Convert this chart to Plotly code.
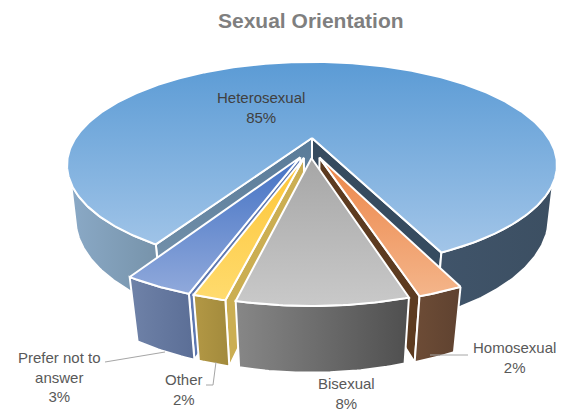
import math
import plotly.graph_objects as go

# ---- data ----
categories = ["Heterosexual", "Homosexual", "Bisexual", "Other", "Prefer not to answer"]
values = [84.6, 2.2, 8.2, 1.6, 3.4]
label_text = ["Heterosexual<br>85%", "Homosexual<br>2%", "Bisexual<br>8%", "Other<br>2%", "Prefer not to<br>answer<br>3%"]

# ---- styling ----
top_colors = [("#5B9BD5", "#A2C5E8"), ("#EC8548", "#F4B58A"), ("#A6A6A6", "#C9C9C9"), ("#FDC536", "#FFDB6E"), ("#4472C4", "#90A9DB")]
wall_colors = [("#8AA9C6", "#3C4F62"), ("#6D4C36", "#5F4230"), ("#878787", "#4F4F4F"), ("#B39845", "#A28A3C"), ("#6F82A8", "#5B6E96")]
side_colors = [("#587A98", "#7C98B0"), ("#5D3B20", "#5D3B20"), ("#888888", "#888888"), ("#CBAE52", "#CBAE52"), ("#5E78B0", "#5E78B0")]
main_right_cut = "#364B5F"
label_xy = [(261, 107), (514, 357), (346, 393), (184, 389), (59, 377)]
leaders = [([105, 165], [362, 352]), ([206, 213, 216], [385, 385, 362]), ([430, 468], [355, 355])]

# ---- projection of the tilted pie plane ----
CX, CY, A, B, K, M, N = 312, 138, 236.4, 96, 0.262, 0.033, 53.5
EXPLODE = 0.1
START = -30.8   # degrees from "towards the viewer", positive towards the right


def project(X, Y, Z=0.0):
    w = 1 - K * Y + M * Z
    return CX + A * X / w, CY + (B * Y + N * Z) / w


total = sum(values)
spans = []
theta = 360 + START  # left cut, going through the top to the right cut, then on along the front
for v in values:
    span = v / total * 360
    spans.append((theta - span, theta))
    theta -= span

mid_main = math.radians(sum(spans[0]) / 2)
ox, oy = -EXPLODE * math.sin(mid_main), -EXPLODE * math.cos(mid_main)


def apex(i):
    m = math.radians(sum(spans[i]) / 2)
    return ox + EXPLODE * math.sin(m), oy + EXPLODE * math.cos(m)


def rim(i, deg, z=0.0):
    ax, ay = apex(i)
    t = math.radians(deg)
    return project(ax + math.sin(t), ay + math.cos(t), z)


def arc(i, d0, d1, z=0.0):
    n = max(4, int(abs(d1 - d0) * 1.5))
    return [rim(i, d0 + (d1 - d0) * j / n, z) for j in range(n + 1)]


def area(pts):
    return sum(pts[j][0] * pts[(j + 1) % len(pts)][1] - pts[(j + 1) % len(pts)][0] * pts[j][1] for j in range(len(pts))) / 2


fig = go.Figure()


def poly(pts, c0, c1, direction):
    xs = [p[0] for p in pts] + [pts[0][0]]
    ys = [p[1] for p in pts] + [pts[0][1]]
    vals = xs if direction == "horizontal" else ys
    fig.add_trace(go.Scatter(
        x=xs, y=ys, mode="lines", fill="toself",
        line=dict(color="white", width=2),
        fillgradient=dict(type=direction, start=min(vals), stop=max(vals),
                          colorscale=[[0, c0], [1, c1]]),
        hoverinfo="skip", showlegend=False,
    ))


# main slice: cut faces, front of the rim, then top
lo, hi = spans[0]
ap_t, ap_b = project(*apex(0)), project(*apex(0), 1.0)
cl_t, cl_b = rim(0, hi), rim(0, hi, 1.0)
cr_t, cr_b = rim(0, lo), rim(0, lo, 1.0)
poly([ap_t, cl_t, cl_b, ap_b], side_colors[0][0], side_colors[0][1], "vertical")
poly([ap_t, cr_t, cr_b, ap_b], main_right_cut, main_right_cut, "vertical")
left_wall = arc(0, hi, 360 - 65) + arc(0, 360 - 70, hi, 1.0)
right_wall = arc(0, 65, lo) + arc(0, lo, 70, 1.0)
poly(left_wall, wall_colors[0][0], "#7692A9", "horizontal")
poly(right_wall, "#40546A", wall_colors[0][1], "horizontal")
poly([ap_t] + arc(0, hi, lo), top_colors[0][0], top_colors[0][1], "vertical")

# exploded small slices, far sides first
for i in (4, 3, 1, 2):
    lo, hi = spans[i]
    a_t, a_b = project(*apex(i)), project(*apex(i), 1.0)
    right_t, right_b = rim(i, lo), rim(i, lo, 1.0)
    left_t, left_b = rim(i, hi), rim(i, hi, 1.0)
    top = [a_t] + arc(i, hi, lo)
    sign = area(top)
    for face in ([a_t, left_t, left_b, a_b], [right_t, a_t, a_b, right_b]):
        if area(face) * sign < 0:
            poly(face, side_colors[i][0], side_colors[i][1], "vertical")
    poly(arc(i, hi, lo) + arc(i, lo, hi, 1.0), wall_colors[i][0], wall_colors[i][1], "horizontal")
    poly(top, top_colors[i][0], top_colors[i][1], "vertical")

# leader lines
for lx, ly in leaders:
    fig.add_trace(go.Scatter(x=lx, y=ly, mode="lines", line=dict(color="#A6A6A6", width=1),
                             hoverinfo="skip", showlegend=False))

for k, (txt, (tx, ty)) in enumerate(zip(label_text, label_xy)):
    fig.add_annotation(x=tx, y=ty, xref="x", yref="y", text=txt, showarrow=False, align="center",
                       font=dict(family="Liberation Sans, Arial, sans-serif", size=15,
                                 color="#404040" if k == 0 else "#595959"))

fig.add_annotation(x=311, y=20, xref="x", yref="y", text="<b>Sexual Orientation</b>", showarrow=False,
                   font=dict(family="Liberation Sans, Arial, sans-serif", size=21, color="#7F7F7F"))

fig.update_layout(
    width=566, height=412, margin=dict(l=0, r=0, t=0, b=0),
    paper_bgcolor="white", plot_bgcolor="white", showlegend=False,
    xaxis=dict(range=[0, 566], visible=False, fixedrange=True),
    yaxis=dict(range=[412, 0], visible=False, fixedrange=True),
)
fig.write_html("out.html", config=dict(displayModeBar=False),
               post_script="document.body.style.margin='0';document.body.style.overflow='hidden';")
